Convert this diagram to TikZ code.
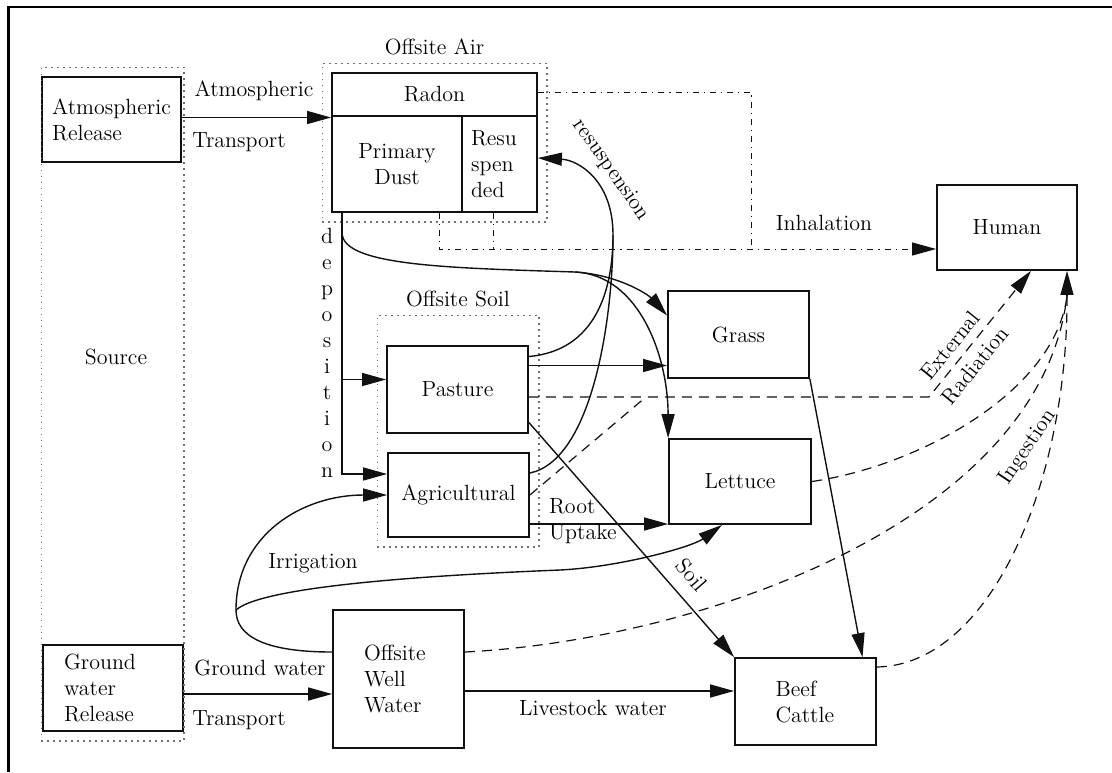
\documentclass[tikz,border=0pt]{standalone}
\usetikzlibrary{arrows.meta,calc,positioning,fit}
\definecolor{Ink}{HTML}{111111}
\definecolor{Dots}{HTML}{707070}
\tikzset{box/.style={draw=Ink,line width=0.9pt,inner sep=0pt,align=center},group/.style={draw=Dots,line width=0.6pt,dash pattern=on 0.7pt off 2.3pt},feed/.style={draw=Ink,line width=0.7pt},flow/.style={feed,-{Triangle[length=12pt,width=6.5pt]}},expoline/.style={draw=Ink,line width=0.6pt,dash pattern=on 5pt off 3.5pt},expo/.style={expoline,-{Triangle[length=12pt,width=6.5pt]}},inhal/.style={draw=Ink,line width=0.5pt,dash pattern=on 3pt off 2.5pt on 0.6pt off 2.5pt},inhalflow/.style={inhal,-{Triangle[length=12pt,width=6.5pt]}}}
\begin{document}
\begin{tikzpicture}[x=0.5pt,y=-0.5pt,font=\fontsize{11}{13}\selectfont]
      \useasboundingbox (0,0) rectangle (1112,772);
      \draw[line width=1.3pt] (8.5,772) -- (8.5,7) -- (1112,7);
      % compartments
      \node[box,minimum width=69.5pt,minimum height=42.5pt,align=left](atmrel) at (111.5,119.5){Atmospheric\\Release};
      \node[box,minimum width=70pt,minimum height=43pt,text width=49pt,align=left](gwrel) at (113,688){Ground\\water\\Release};
      \node[box,minimum width=102.5pt,minimum height=21.5pt](radon) at (434.5,94.5){Radon};
      \node[box,minimum width=65pt,minimum height=48pt](dust) at (397,164){Primary\\Dust};
      \node[box,minimum width=37.5pt,minimum height=48pt,text width=28.5pt,align=left](resusp) at (499.5,164){Resu\\spen\\ded};
      \node[box,minimum width=70.5pt,minimum height=43.5pt](pasture) at (457.5,389.5){Pasture};
      \node[box,minimum width=70.5pt,minimum height=42pt](agri) at (458.5,495){Agricultural};
      \node[box,minimum width=65.5pt,minimum height=69pt,text width=34.5pt,align=left](well) at (398.5,679){Offsite\\Well\\Water};
      \node[box,minimum width=70.5pt,minimum height=43.5pt](grass) at (738.5,334.5){Grass};
      \node[box,minimum width=71pt,minimum height=42.5pt](lettuce) at (740,481.5){Lettuce};
      \node[box,minimum width=70.5pt,minimum height=43.5pt,text width=30pt,align=left](beef) at (805.5,701.5){Beef\\Cattle};
      \node[box,minimum width=70pt,minimum height=42.5pt](human) at (1007,227.5){Human};
      % dotted groups
      \node[group,fit=(atmrel)(gwrel),inner xsep=0pt,inner ysep=4.5pt](source){};
      \node(srclbl) at (116,357){Source};
      \node[group,fit=(radon)(dust)(resusp),inner sep=4.5pt](air){};
      \node[above](airlbl) at (air.north){Offsite Air};
      \coordinate(soiltop) at ([shift={(0,-21)}]pasture.north);
      \node[group,fit=(soiltop)(pasture)(agri),inner sep=4.5pt](soil){};
      \node[above](soillbl) at (soil.north){Offsite Soil};
      % transport
      \coordinate(atmout) at ([shift={(0,-2)}]atmrel.east);
      \draw[flow](atmout)--(atmout -| radon.west);
      \node(atmlbl) at (254,91){Atmospheric};\node(atmtr) at (239,142){Transport};
      \coordinate(gwout) at ([shift={(0,6)}]gwrel.east);
      \draw[flow](gwout)--(gwout -| well.west);
      \node(gwlbl) at (260,668){Ground water};\node(gwtr) at (239,720){Transport};
      % deposition
      \coordinate(dep) at ([shift={(11,0)}]dust.south west);
      \coordinate(depp) at ([shift={(0,-10)}]pasture.west);
      \coordinate(depa) at ([shift={(0,-21)}]agri.west);
      \draw[flow](dep)|-(depa);\draw[flow](dep |- depp)--(depp);
      \node[align=center](deplbl) at (327,353){d\\e\\p\\o\\s\\i\\t\\i\\o\\n};
      \coordinate(dustsplit) at (575,272);
      \draw[feed]([shift={(0,20)}]dep) .. controls +(0,33) and +(-125,-4) .. (dustsplit);
      \draw[flow](dustsplit) .. controls +(45,3) and +(-18,-20) .. ([shift={(0,-19)}]grass.west);
      \draw[flow](dustsplit) .. controls +(65,3) and +(0,-80) .. (lettuce.north west);
      % resuspension
      \coordinate(rsp) at (613,235);
      \draw[feed]([shift={(0,-33)}]pasture.east) .. controls +(67,-6) and +(0,55) .. (rsp);
      \draw[feed]([shift={(0,-22)}]agri.east) .. controls +(62,-13) and +(0,85) .. (rsp);
      \draw[flow](rsp) .. controls +(0,-55) and +(40,2) .. ([shift={(0,-6)}]resusp.east);
      \node[rotate=-55](rsplbl) at (611,170){resuspension};
      % soil to plants and cattle
      \coordinate(pasg) at ([shift={(0,-24)}]pasture.east);
      \draw[flow](pasg)--(pasg -| grass.west);
      \draw[flow]([shift={(0,33)}]pasture.east)--(beef.north west);
      \node[rotate=-49,inner sep=1pt](soiltxt) at (692,575){Soil};
      \draw[flow](grass.south east)--([shift={(57,0)}]beef.north);
      \coordinate(root) at ([shift={(0,29)}]agri.east);
      \draw[flow](root)--(root -| lettuce.west);
      \node[align=left,anchor=west](rootlbl) at (542,521){Root\\Uptake};
      % water
      \coordinate(irr) at (236,610);\coordinate(irrmid) at (560,570);
      \draw[feed]([shift={(0,-27)}]well.west) .. controls +(-70,0) and +(0,25) .. (irr);
      \draw[flow](irr) .. controls +(0,-75) and +(-85,0) .. (agri.west);
      \draw[flow](irr) .. controls +(20,-18) and +(-200,8) .. (irrmid) .. controls +(60,-3) and +(-30,22) .. ([shift={(-18,0)}]lettuce.south);
      \node(irrlbl) at (313,563){Irrigation};
      \coordinate(lsw) at ([shift={(0,12)}]well.east);
      \draw[flow](lsw)--(lsw -| beef.west);
      \node(lswlbl) at (593,708){Livestock water};
      % inhalation
      \coordinate(inh) at ([shift={(0,21.5)}]human.west);
      \draw[inhalflow]([shift={(42,0)}]dust.south)|-(inh);
      \coordinate(rsbot) at ([shift={(-6,0)}]resusp.south);
      \draw[inhal](rsbot)--(rsbot |- inh);
      \coordinate(radout) at ([shift={(0,-2.5)}]radon.east);
      \coordinate(radturn) at ([shift={(214,0)}]radout);
      \draw[inhal](radout)--(radturn)--(radturn |- inh);
      \node(inhlbl) at (824,223){Inhalation};
      % external radiation
      \coordinate(extc) at ([shift={(400,7.5)}]pasture.east);
      \coordinate(extj) at ([shift={(117,7.5)}]pasture.east);
      \draw[expo]([shift={(0,7.5)}]pasture.east)--(extc)--node[sloped,pos=0.33,align=center,inner sep=1pt]{External\\[3pt]Radiation}([shift={(24,0)}]human.south);
      \draw[expoline](agri.east)--(extj);
      % ingestion
      \coordinate(ing) at ([shift={(60,25)}]human.south);
      \draw[expo](ing)--([shift={(60,0)}]human.south);
      \draw[expoline](lettuce.east) .. controls +(109,-16) and +(-12,95) .. (ing);
      \draw[expoline]([shift={(0,-27)}]well.east) .. controls +(236,-12) and +(-27,225) .. (ing);
      \draw[expoline]([shift={(0,-34.5)}]beef.east) .. controls +(114,-2) and +(1,185) .. (ing);
      \node[rotate=56](inglbl) at (1028,447){Ingestion};
    \end{tikzpicture}
\end{document}
